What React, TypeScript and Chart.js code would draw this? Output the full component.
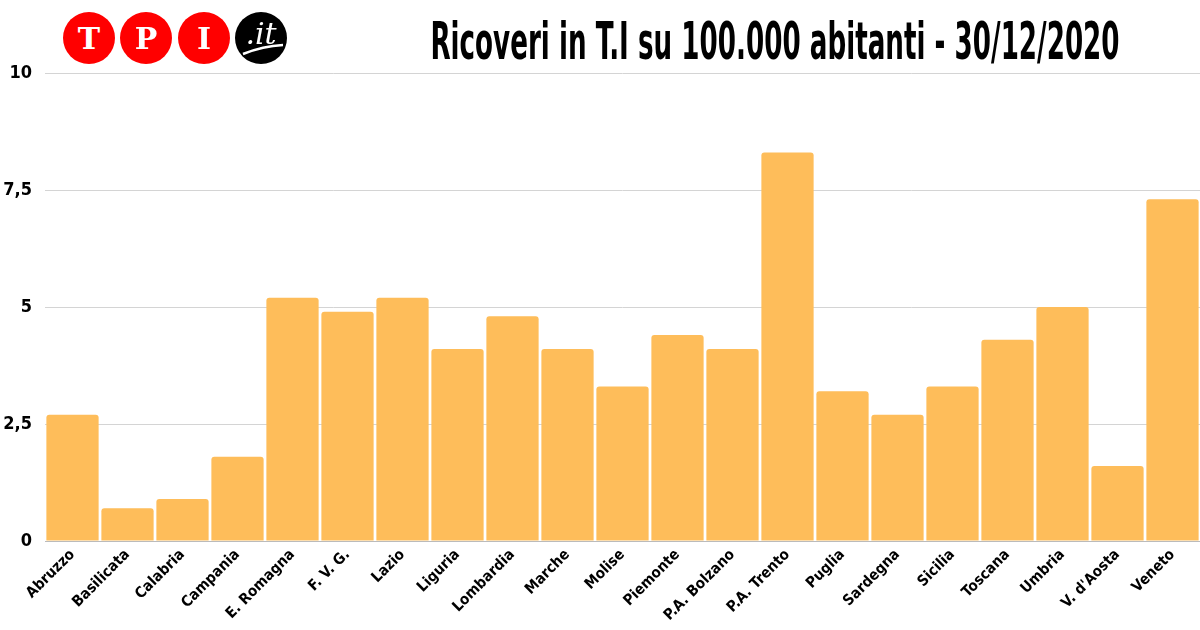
import React, { useEffect, useRef } from "react";
import { Chart, registerables } from "chart.js";

Chart.register(...registerables);

const categories = [
  "Abruzzo", "Basilicata", "Calabria", "Campania", "E. Romagna", "F. V. G.", "Lazio",
  "Liguria", "Lombardia", "Marche", "Molise", "Piemonte", "P.A. Bolzano", "P.A. Trento",
  "Puglia", "Sardegna", "Sicilia", "Toscana", "Umbria", "V. d'Aosta", "Veneto",
];
const values = [2.7, 0.7, 0.9, 1.8, 5.2, 4.9, 5.2, 4.1, 4.8, 4.1, 3.3, 4.4, 4.1, 8.3, 3.2, 2.7, 3.3, 4.3, 5.0, 1.6, 7.3];
const yTicks = [0, 2.5, 5, 7.5, 10];
const title = "Ricoveri in T.I su 100.000 abitanti - 30/12/2020";

const FONT = "'DejaVu Sans Condensed', 'DejaVu Sans', sans-serif";

export default function App() {
  const ref = useRef<HTMLCanvasElement | null>(null);
  useEffect(() => {
    document.body.style.margin = "0";
    if (!ref.current) return;
    const chart = new Chart(ref.current, {
      type: "bar",
      data: {
        labels: categories,
        datasets: [
          {
            data: values,
            backgroundColor: "#FEBD5A",
            borderRadius: { topLeft: 3, topRight: 3, bottomLeft: 0, bottomRight: 0 },
            borderSkipped: "bottom",
            categoryPercentage: 1,
            barPercentage: 0.95,
          },
        ],
      },
      options: {
        animation: false,
        responsive: false,
        maintainAspectRatio: false,
        layout: { padding: { top: 73, right: 0, left: 0, bottom: 0 } },
        plugins: { legend: { display: false }, tooltip: { enabled: false } },
        scales: {
          x: {
            grid: { display: false, drawTicks: false },
            border: { display: true, color: "#bbbbbb" },
            ticks: {
              color: "#000",
              font: { family: FONT, size: 15, weight: "bold" },
              maxRotation: 45,
              minRotation: 45,
              padding: 5,
              autoSkip: false,
            },
            afterFit: (s: any) => { s.height = 89; },
          },
          y: {
            min: 0,
            max: 10,
            afterBuildTicks: (s: any) => { s.ticks = yTicks.map((v) => ({ value: v })); },
            grid: { color: "#d4d4d4", drawTicks: false, lineWidth: 1 },
            border: { display: false },
            ticks: {
              color: "#000",
              font: { family: FONT, size: 18, weight: "bold" },
              padding: 13,
              callback: (v: any) => String(v).replace(".", ","),
            },
            afterFit: (s: any) => { s.width = 45; },
          },
        },
      },
    });
    return () => chart.destroy();
  }, []);

  const circle = (bg: string, left: number): React.CSSProperties => ({
    position: "absolute",
    left,
    top: 12,
    width: 52,
    height: 52,
    borderRadius: "50%",
    background: bg,
    color: "#fff",
    display: "flex",
    alignItems: "center",
    justifyContent: "center",
    fontFamily: "'DejaVu Serif', serif",
    fontWeight: "bold",
    fontSize: 30,
  });

  return (
    <div style={{ position: "fixed", left: 0, top: 0, width: 1200, height: 630, background: "#fff" }}>
      <canvas ref={ref} width={1200} height={630} style={{ position: "absolute", left: 0, top: 0 }} />
      <div style={circle("#ff0000", 63)}>T</div>
      <div style={circle("#ff0000", 120)}>P</div>
      <div style={circle("#ff0000", 178)}>I</div>
      <div style={{ ...circle("#000", 235), overflow: "hidden" }}>
        <span style={{ marginTop: -10, fontStyle: "italic", fontSize: 30, fontWeight: "normal", fontFamily: "'DejaVu Serif', serif" }}>.it</span>
        <svg width={52} height={52} style={{ position: "absolute", left: 0, top: 0 }}>
          <path d="M8 42 Q 28 34 48 33" stroke="#fff" strokeWidth={2.5} fill="none" />
        </svg>
      </div>
      <div
        style={{
          position: "absolute",
          left: 775,
          top: 10,
          transform: "translateX(-50%) scaleX(0.56)",
          whiteSpace: "nowrap",
          fontFamily: FONT,
          fontWeight: "bold",
          fontSize: 52,
          lineHeight: "62px",
          color: "#000",
        }}
      >
        {title}
      </div>
    </div>
  );
}
